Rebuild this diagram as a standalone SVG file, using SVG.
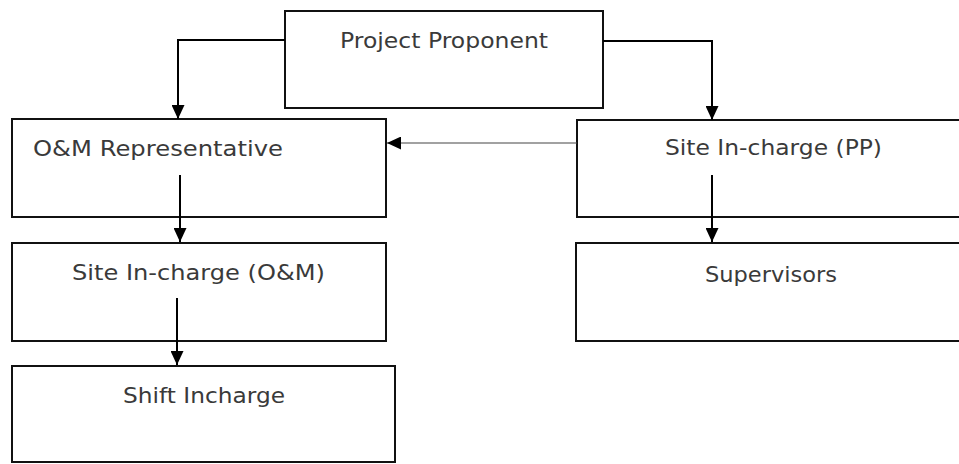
<svg xmlns="http://www.w3.org/2000/svg" width="959" height="464" viewBox="0 0 959 464">
<style>
.box{fill:#fff;stroke:#111;stroke-width:2}
.lbl{font-family:"DejaVu Sans","Liberation Sans",sans-serif;font-size:22px;fill:#3a3a3a}
.con{fill:none;stroke:#000;stroke-width:2}
.thin{fill:none;stroke:#444;stroke-width:1.2}
</style>
<defs>
<marker id="ah" markerUnits="userSpaceOnUse" markerWidth="14" markerHeight="13" refX="14" refY="6.5" orient="auto">
<path d="M0,0 L14,6.5 L0,13 z" fill="#000"/>
</marker>
</defs>
<rect width="959" height="464" fill="#fff"/>
<g id="project-proponent">
<rect class="box" x="285" y="11" width="318" height="97"/>
<text class="lbl" x="340" y="48" textLength="208" lengthAdjust="spacingAndGlyphs">Project Proponent</text>
</g>
<g id="om-representative">
<rect class="box" x="12" y="119" width="374" height="98"/>
<text class="lbl" x="33" y="156" textLength="250" lengthAdjust="spacingAndGlyphs">O&amp;M Representative</text>
</g>
<g id="site-incharge-pp">
<rect class="box" x="577" y="120" width="392" height="97"/>
<text class="lbl" x="665" y="155" textLength="217" lengthAdjust="spacingAndGlyphs">Site In-charge (PP)</text>
</g>
<g id="site-incharge-om">
<rect class="box" x="12" y="243" width="374" height="98"/>
<text class="lbl" x="72" y="280" textLength="253" lengthAdjust="spacingAndGlyphs">Site In-charge (O&amp;M)</text>
</g>
<g id="supervisors">
<rect class="box" x="576" y="243" width="393" height="98"/>
<text class="lbl" x="705" y="282" textLength="132" lengthAdjust="spacingAndGlyphs">Supervisors</text>
</g>
<g id="shift-incharge">
<rect class="box" x="12" y="366" width="383" height="96"/>
<text class="lbl" x="123" y="403" textLength="162" lengthAdjust="spacingAndGlyphs">Shift Incharge</text>
</g>
<g id="connectors">
<path class="con" d="M285,40 H178 V119" marker-end="url(#ah)"/>
<path class="con" d="M603,41 H712 V120" marker-end="url(#ah)"/>
<path class="con" d="M180,175 V242" marker-end="url(#ah)"/>
<path class="con" d="M177,298 V365" marker-end="url(#ah)"/>
<path class="con" d="M712,175 V242" marker-end="url(#ah)"/>
<path class="thin" d="M577,143 H387" marker-end="url(#ah)"/>
</g>
</svg>
